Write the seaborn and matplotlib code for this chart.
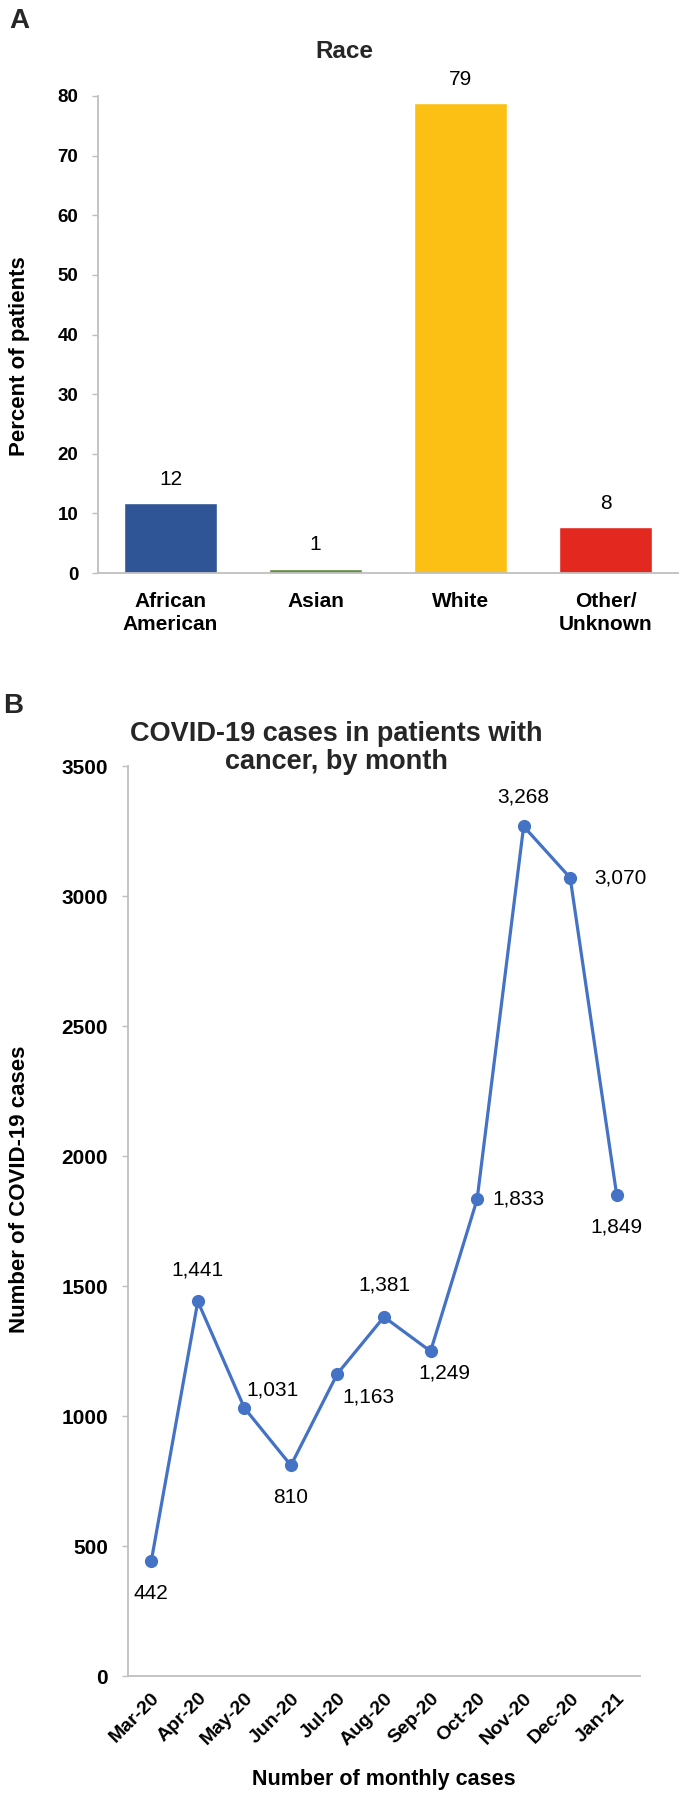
import matplotlib
matplotlib.use("Agg")
import matplotlib.pyplot as plt
import seaborn as sns
import pandas as pd

# ---------------- data ----------------
race_categories = ["African\nAmerican", "Asian", "White", "Other/\nUnknown"]
race_percent = [11.7, 0.7, 78.8, 7.7]
race_colors = ["#2F5597", "#5E8F3E", "#FBC013", "#E3281F"]
race_yticks = [0, 10, 20, 30, 40, 50, 60, 70, 80]

months = ["Mar-20", "Apr-20", "May-20", "Jun-20", "Jul-20", "Aug-20",
          "Sep-20", "Oct-20", "Nov-20", "Dec-20", "Jan-21"]
monthly_cases = [442, 1441, 1031, 810, 1163, 1381, 1249, 1833, 3268, 3070, 1849]
case_yticks = [0, 500, 1000, 1500, 2000, 2500, 3000, 3500]

# label offsets (pixels: dx right, dy down) for line data labels
label_offsets = [(0, 32), (0, -31), (28, -18), (0, 32), (31, 23), (0, -32),
                 (14, 22), (41, 0), (0, -29), (50, 0), (0, 32)]

# ---------------- style ----------------
sns.set_theme(style="white")
plt.rcParams["font.family"] = ["Liberation Sans", "DejaVu Sans"]
GRAY = "#BFBFBF"
LINE_BLUE = "#4472C4"
W, H = 680, 1795

fig = plt.figure(figsize=(W / 100, H / 100), dpi=100)
fig.patch.set_facecolor("white")


def fx(px):
    return px / W


def fy(py):
    return 1 - py / H


def style_axes(ax):
    for s in ["top", "right"]:
        ax.spines[s].set_visible(False)
    for s in ["left", "bottom"]:
        ax.spines[s].set_color(GRAY)
        ax.spines[s].set_linewidth(1.3)
    ax.set_facecolor("white")
    ax.grid(False)


# ---------------- panel A ----------------
axA = fig.add_axes([fx(98), fy(573), (678 - 98) / W, (573 - 96) / H])
dfA = pd.DataFrame({"race": race_categories, "pct": race_percent})
sns.barplot(data=dfA, x="race", y="pct", hue="race", palette=race_colors,
            width=0.64, saturation=1, legend=False, ax=axA)
axA.set_xlim(-0.5, 3.5)
axA.set_ylim(0, 80)
axA.set_yticks(race_yticks)
axA.set_yticklabels([str(t) for t in race_yticks], fontsize=13.5, fontweight="bold")
axA.set_xticks(range(len(race_categories)))
axA.set_xticklabels(race_categories, fontsize=15, fontweight="bold", linespacing=1.25)
style_axes(axA)
axA.tick_params(axis="y", left=True, length=4.3, width=1, color=GRAY, pad=10, labelcolor="black")
axA.tick_params(axis="x", bottom=False, length=0, pad=14, labelcolor="black")
for i, v in enumerate(race_percent):
    axA.annotate(f"{round(v)}", (i, v), xytext=(0, 24 * 0.72), textcoords="offset points",
                 ha="center", va="center", fontsize=15, color="black")
axA.set_xlabel("")
axA.set_ylabel("Percent of patients", fontsize=16, fontweight="bold", color="black")
axA.yaxis.label.set_ha("center")
axA.yaxis.label.set_va("center")
axA.yaxis.set_label_coords((20 - 98) / 580, (573 - 356) / 477)

fig.text(fx(344), fy(52), "Race", ha="center", va="center", fontsize=17.5, fontweight="bold")
fig.text(fx(9), fy(28), "A", ha="left", va="baseline", fontsize=20, fontweight="bold")

# ---------------- panel B ----------------
axB = fig.add_axes([fx(128), fy(1676), (640 - 128) / W, (1676 - 766) / H])
xpos = list(range(len(months)))
dfB = pd.DataFrame({"pos": xpos, "cases": monthly_cases})
sns.lineplot(data=dfB, x="pos", y="cases", color=LINE_BLUE, linewidth=2.3,
             marker="o", markersize=9.5, markeredgewidth=0, ax=axB)
axB.set_xlim(-0.5, len(months) - 0.5)
axB.set_ylim(0, 3500)
axB.set_yticks(case_yticks)
axB.set_yticklabels([str(t) for t in case_yticks], fontsize=15, fontweight="bold")
axB.set_xticks(xpos)
axB.set_xticklabels(months, fontsize=14, fontweight="bold", rotation=45,
                    ha="right", rotation_mode="anchor")
style_axes(axB)
axB.tick_params(axis="y", left=True, length=4.3, width=1, color=GRAY, pad=10, labelcolor="black")
axB.tick_params(axis="x", bottom=False, length=0, pad=10, labelcolor="black")
for i, v in enumerate(monthly_cases):
    dx, dy = label_offsets[i]
    axB.annotate(f"{v:,}", (i, v), xytext=(dx * 0.72, -dy * 0.72), textcoords="offset points",
                 ha="center", va="center", fontsize=15, color="black")
axB.set_xlabel("Number of monthly cases", fontsize=15.5, fontweight="bold", color="black")
axB.xaxis.label.set_va("center")
axB.xaxis.set_label_coords(0.5, -(1780 - 1676) / 910)
axB.set_ylabel("Number of COVID-19 cases", fontsize=16, fontweight="bold", color="black")
axB.yaxis.label.set_ha("center")
axB.yaxis.label.set_va("center")
axB.yaxis.set_label_coords((20 - 128) / 512, (1676 - 1189) / 910)

fig.text(fx(336), fy(748), "COVID-19 cases in patients with\ncancer, by month",
         ha="center", va="center", fontsize=19.5, fontweight="bold", linespacing=1.12)
fig.text(fx(3), fy(713), "B", ha="left", va="baseline", fontsize=20, fontweight="bold")

fig.savefig("out.png", dpi=100, facecolor="white")
